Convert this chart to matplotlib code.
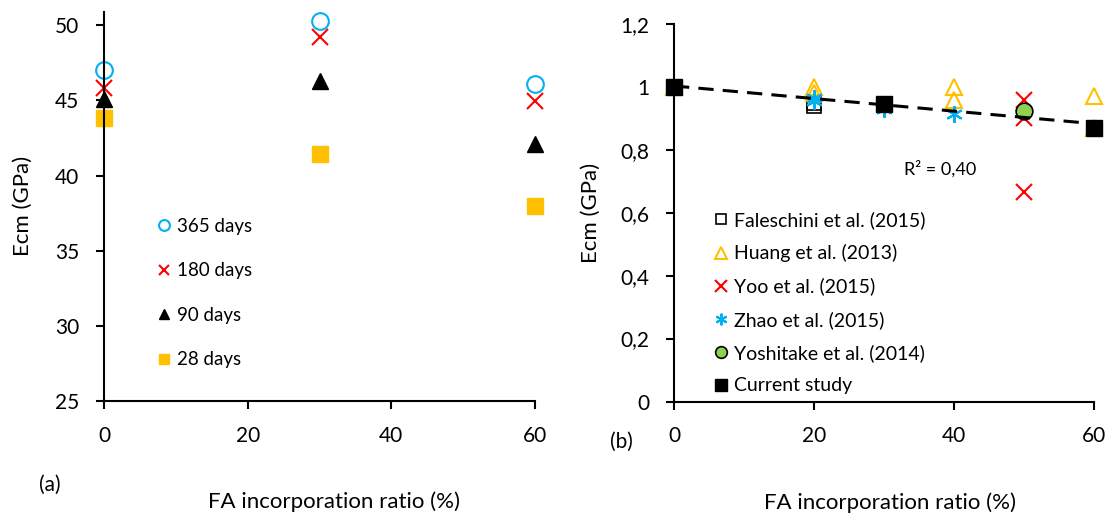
import numpy as np
import matplotlib.pyplot as plt

plt.rcParams['font.family'] = ['Lato', 'DejaVu Sans']

# (a) Ecm at different ages
fa_a = [0, 30, 60]
ecm_365 = [47.0, 50.3, 46.1]
ecm_180 = [45.8, 49.2, 44.95]
ecm_90 = [45.1, 46.3, 42.1]
ecm_28 = [43.8, 41.4, 38.0]

# (b) normalised Ecm, literature vs current study
fal_x = [20, 20]
fal_y = [0.95, 0.94]
huang_x = [0, 20, 20, 40, 40, 60, 60]
huang_y = [1.0, 1.0, 0.98, 1.0, 0.96, 0.97, 0.87]
yoo_x = [50, 50, 50]
yoo_y = [0.96, 0.90, 0.665]
zhao_x = [20, 20, 30, 40]
zhao_y = [0.965, 0.955, 0.93, 0.915]
yosh_x = [50]
yosh_y = [0.925]
cur_x = [0, 30, 60]
cur_y = [1.0, 0.945, 0.868]
trend_intercept = 1.003
trend_slope = -0.002

yticks_b = [0, 0.2, 0.4, 0.6, 0.8, 1.0, 1.2]
ylabels_b = ['0', '0,2', '0,4', '0,6', '0,8', '1', '1,2']

BLUE = '#00B0F0'
RED = '#FF0000'
GOLD = '#FFC000'
GREEN = '#92D050'

fig = plt.figure(figsize=(11.09, 5.17), dpi=100)
ax1 = fig.add_axes([104/1109, 1-401/517, (535-104)/1109, (401-11.7)/517])
ax2 = fig.add_axes([674/1109, 1-401.5/517, (1094-674)/1109, (401.5-24)/517])

# ---- panel a
ax1.plot(fa_a, ecm_365, 'o', ms=12, mfc='none', mec=BLUE, mew=1.5, ls='none', clip_on=False, label='365 days')
ax1.plot(fa_a, ecm_180, 'x', ms=12, color=RED, mew=1.5, ls='none', clip_on=False, label='180 days')
ax1.plot(fa_a, ecm_90, '^', ms=12, color='black', ls='none', clip_on=False, label='90 days')
ax1.plot(fa_a, ecm_28, 's', ms=11, color=GOLD, ls='none', clip_on=False, label='28 days')
ax1.set_xlim(0, 60)
ax1.set_ylim(25, 50.9)
ax1.set_xticks([0, 20, 40, 60])
ax1.set_yticks([25, 30, 35, 40, 45, 50])
ax1.set_ylabel('Ecm (GPa)', fontsize=16, labelpad=16)
ax1.legend(loc='upper left', bbox_to_anchor=(158/1109, 1-218/517),
           bbox_transform=fig.transFigure, frameon=False, fontsize=13.5,
           markerscale=0.65, handlelength=0.6, handletextpad=0.4,
           labelspacing=1.46, borderpad=0, borderaxespad=0)

# ---- panel b
ax2.plot(fal_x, fal_y, 's', ms=10, mfc='none', mec='black', mew=1.2, ls='none', clip_on=False, label='Faleschini et al. (2015)')
ax2.plot(huang_x, huang_y, '^', ms=12, mfc='none', mec=GOLD, mew=1.5, ls='none', clip_on=False, label='Huang et al. (2013)')
ax2.plot(yoo_x, yoo_y, 'x', ms=12, color=RED, mew=1.5, ls='none', clip_on=False, label='Yoo et al. (2015)')
ax2.plot(zhao_x, zhao_y, marker=(6, 2, 0), ms=12, color=BLUE, mew=1.5, ls='none', clip_on=False, label='Zhao et al. (2015)')
ax2.plot(yosh_x, yosh_y, 'o', ms=12, mfc=GREEN, mec='black', mew=1.2, ls='none', clip_on=False, label='Yoshitake et al. (2014)')
ax2.plot(cur_x, cur_y, 's', ms=12, color='black', ls='none', clip_on=False, label='Current study', zorder=4)
xt = np.array([0, 60])
ax2.plot(xt, trend_intercept + trend_slope*xt, color='black', lw=2.2, dashes=(5, 3), zorder=3)
ax2.text(38, 0.74, 'R² = 0,40', fontsize=13, ha='center', va='center')
ax2.set_xlim(0, 60)
ax2.set_ylim(0, 1.2)
ax2.set_xticks([0, 20, 40, 60])
ax2.set_yticks(yticks_b)
ax2.set_yticklabels(ylabels_b)
ax2.set_ylabel('Ecm (GPa)', fontsize=16, labelpad=14)
ax2.legend(loc='upper left', bbox_to_anchor=(715/1109, 1-211/517),
           bbox_transform=fig.transFigure, frameon=False, fontsize=14,
           markerscale=0.7, handlelength=0.6, handletextpad=0.4,
           labelspacing=0.79, borderpad=0, borderaxespad=0)

for ax in (ax1, ax2):
    ax.spines['top'].set_visible(False)
    ax.spines['right'].set_visible(False)
    ax.spines['left'].set_linewidth(1.5)
    ax.spines['bottom'].set_linewidth(1.5)
    ax.tick_params(direction='out', length=6, width=1.5, labelsize=15)
    ax.tick_params(axis='y', pad=12)
    ax.tick_params(axis='x', pad=12)

fig.text(334/1109, 1-502/517, 'FA incorporation ratio (%)', fontsize=16, ha='center', va='center')
fig.text(890/1109, 1-503/517, 'FA incorporation ratio (%)', fontsize=16, ha='center', va='center')
fig.text(50/1109, 1-485/517, '(a)', fontsize=15, ha='center', va='center')
fig.text(621/1109, 1-442/517, '(b)', fontsize=15, ha='center', va='center')

fig.savefig('out.png', dpi=100)
